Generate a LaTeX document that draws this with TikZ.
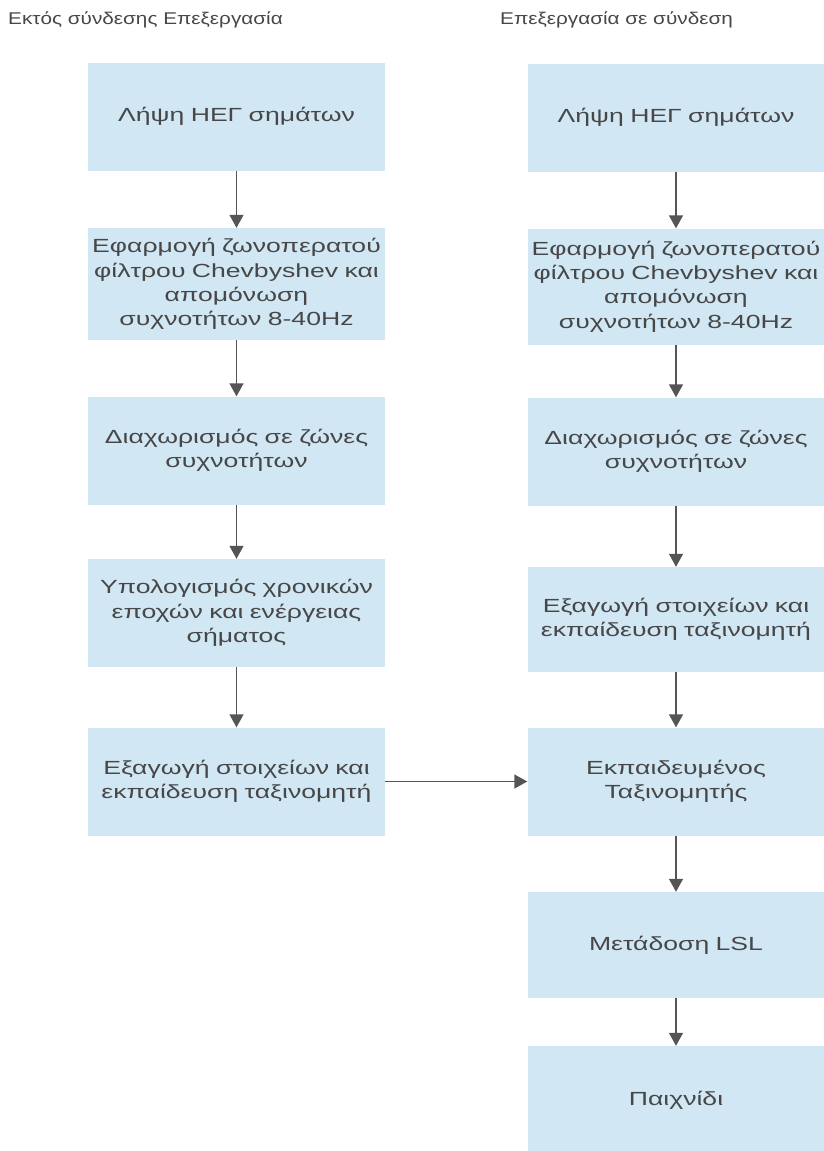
\documentclass[tikz,border=0pt]{standalone}
\usepackage{fontspec}
\setmainfont{Liberation Sans}[FakeStretch=1.22]
\newfontfamily\boxfont{Liberation Sans}[FakeStretch=1.4]
\usetikzlibrary{arrows.meta}
\definecolor{boxfill}{HTML}{D1E7F4}
\definecolor{txt}{HTML}{474747}
\definecolor{arr}{HTML}{555555}
\tikzset{
  stepbox/.style={fill=boxfill, draw=none, minimum width=297pt, minimum height=108pt,
    text width=296pt, align=center, inner sep=0pt, text=txt,
    font=\boxfont\fontsize{19pt}{24.3pt}\selectfont},
  titletext/.style={anchor=west, inner sep=0pt, text=txt, font=\fontsize{17pt}{24pt}\selectfont},
  flow/.style={draw=arr, line width=1.4pt, -{Triangle[width=14pt,length=13pt]}}
}
\begin{document}
\begin{tikzpicture}[x=1pt,y=-1pt]
\useasboundingbox (0,0) rectangle (824,1151);
\fill[white] (0,0) rectangle (824,1151);
\node[titletext] (t1) at (8,20) {Εκτός σύνδεσης Επεξεργασία};
\node[titletext] (t2) at (500,20) {Επεξεργασία σε σύνδεση};
% left column
\node[stepbox] (l1) at (236.5,116.5) {Λήψη ΗΕΓ σημάτων};
\node[stepbox, minimum height=112pt] (l2) at (236.5,284) {Εφαρμογή ζωνοπερατού\\ φίλτρου Chevbyshev και\\ απομόνωση\\ συχνοτήτων 8-40Hz};
\node[stepbox] (l3) at (236.5,450.5) {Διαχωρισμός σε ζώνες\\ συχνοτήτων};
\node[stepbox] (l4) at (236.5,613) {Υπολογισμός χρονικών\\ εποχών και ενέργειας\\ σήματος};
\node[stepbox] (l5) at (236.5,781.5) {Εξαγωγή στοιχείων και\\ εκπαίδευση ταξινομητή};
% right column
\node[stepbox] (r1) at (676,117.5) {Λήψη ΗΕΓ σημάτων};
\node[stepbox, minimum height=116pt] (r2) at (676,286.5) {Εφαρμογή ζωνοπερατού\\ φίλτρου Chevbyshev και\\ απομόνωση\\ συχνοτήτων 8-40Hz};
\node[stepbox] (r3) at (676,451.5) {Διαχωρισμός σε ζώνες\\ συχνοτήτων};
\node[stepbox, minimum height=105pt] (r4) at (676,619.5) {Εξαγωγή στοιχείων και\\ εκπαίδευση ταξινομητή};
\node[stepbox] (r5) at (676,781.5) {Εκπαιδευμένος\\ Ταξινομητής};
\node[stepbox, minimum height=106pt] (r6) at (676,945) {Μετάδοση LSL};
\node[stepbox] (r7) at (676,1100) {Παιχνίδι};
% arrows
\draw[flow] (l1) -- (l2);
\draw[flow] (l2) -- (l3);
\draw[flow] (l3) -- (l4);
\draw[flow] (l4) -- (l5);
\draw[flow] (r1) -- (r2);
\draw[flow] (r2) -- (r3);
\draw[flow] (r3) -- (r4);
\draw[flow] (r4) -- (r5);
\draw[flow] (r5) -- (r6);
\draw[flow] (r6) -- (r7);
\draw[flow] (l5) -- (r5);
\end{tikzpicture}
\end{document}
